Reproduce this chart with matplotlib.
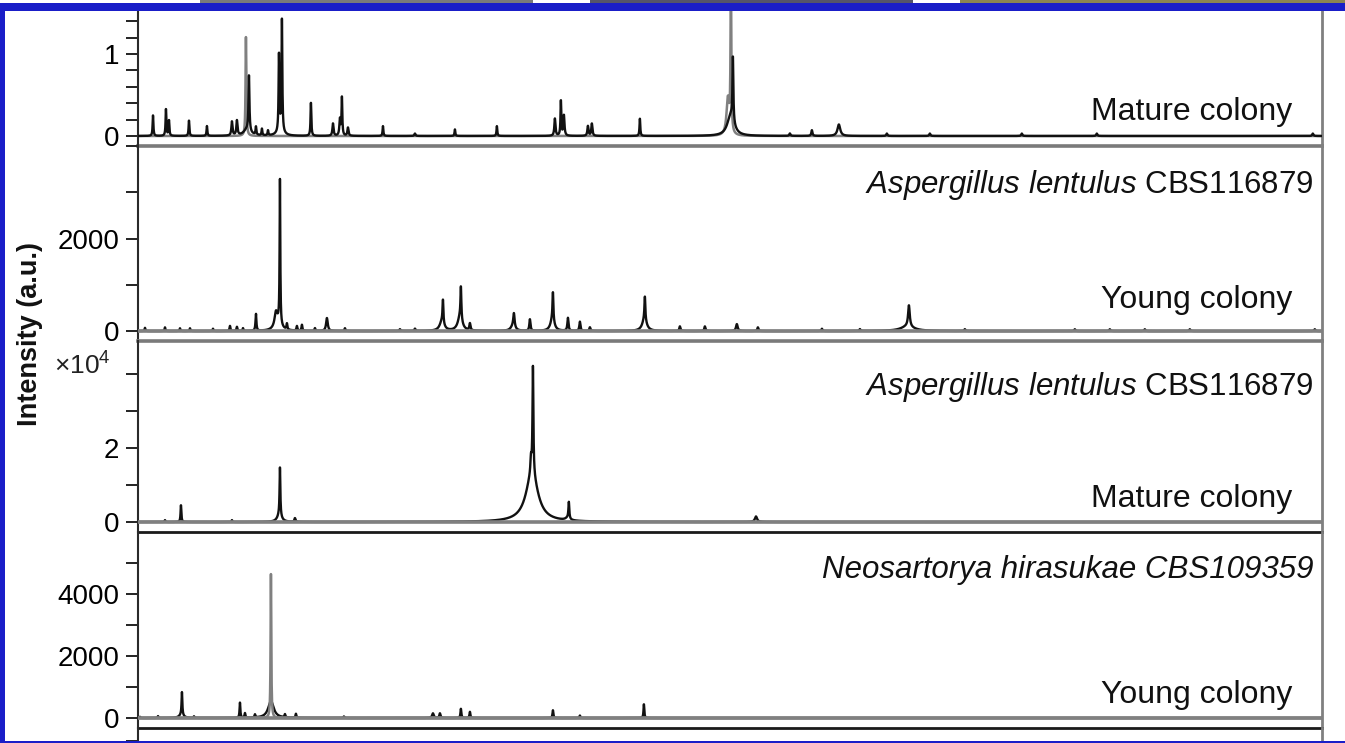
import numpy as np
import matplotlib
matplotlib.use("Agg")
import matplotlib.pyplot as plt
from matplotlib.patches import Rectangle

plt.rcParams['font.family'] = ['Liberation Sans', 'DejaVu Sans']
plt.rcParams['mathtext.fontset'] = 'custom'
plt.rcParams['mathtext.rm'] = 'Liberation Sans'
plt.rcParams['mathtext.it'] = 'Liberation Sans:italic'

W, H = 1345, 743

# m/z grid shared by the four spectra
mz = np.arange(2000.0, 20000.0, 2.0)

# ---- panel 1: mature colony (x10^4 a.u.) ----
p1_pos = [2228, 2425, 2471, 2775, 3048, 3428, 3504, 3687, 3660, 3793, 3884, 3976,
          4143, 4188, 4165, 4629, 4964, 5070, 5100, 5192, 5724, 6210, 6818, 7456,
          8338, 8429, 8475, 8840, 8900, 9630, 11044, 11010, 11910, 12245, 12655,
          13384, 14038, 15436, 16576, 19860]
p1_int = [0.25, 0.33, 0.19, 0.19, 0.12, 0.17, 0.18, 0.68, 0.08, 0.10, 0.08, 0.06,
          0.94, 1.35, 0.07, 0.41, 0.15, 0.20, 0.46, 0.10, 0.12, 0.03, 0.08, 0.12,
          0.21, 0.43, 0.25, 0.12, 0.15, 0.21, 0.78, 0.25, 0.03, 0.07, 0.14,
          0.03, 0.03, 0.03, 0.03, 0.03]
p1_wid = [7, 7, 7, 7, 7, 10, 10, 8, 60, 7, 7, 7,
          7, 7, 50, 7, 10, 10, 7, 10, 7, 10, 7, 7,
          10, 7, 10, 10, 10, 7, 8, 60, 10, 10, 25,
          10, 10, 10, 10, 10]
# second (grey) acquisition overlaid
p1g_pos = [3641, 11014, 10968]
p1g_int = [1.23, 1.9, 0.45]
p1g_wid = [7, 7, 25]

# ---- panel 2: young colony ----
p2_pos = [2106, 2410, 2638, 2790, 3140, 3398, 3504, 3596, 3793, 4097, 4158, 4130,
          4264, 4416, 4492, 4690, 4872, 5146, 5982, 6210, 6636, 6620, 6909, 6895,
          7046, 7715, 7700, 7958, 8308, 8300, 8536, 8718, 8870, 9706, 9700, 10238,
          10618, 11104, 11424, 12397, 12975, 13720, 13700, 14570, 16242, 16774,
          17306, 17990, 19890]
p2_int = [70, 80, 60, 60, 50, 110, 90, 60, 370, 300, 3120, 150,
          130, 100, 130, 60, 280, 60, 40, 50, 500, 200, 700, 300,
          150, 300, 100, 250, 600, 250, 280, 200, 80, 500, 250, 100,
          100, 150, 80, 50, 40, 460, 100, 40, 40, 40,
          40, 40, 40]
p2_wid = [7, 7, 7, 7, 7, 8, 8, 7, 8, 25, 6, 60,
          8, 8, 8, 8, 15, 8, 10, 10, 8, 40, 8, 40,
          10, 12, 40, 10, 8, 35, 10, 10, 10, 8, 40, 10,
          10, 15, 10, 10, 10, 15, 120, 10, 10, 10,
          10, 10, 10]

# ---- panel 3: mature colony (x10^4 a.u.) ----
p3_pos = [2410, 2653, 3428, 4158, 4150, 4386, 7990, 7974, 8004, 8550, 8530, 11395]
p3_int = [0.05, 0.46, 0.05, 1.30, 0.18, 0.10, 1.30, 0.40, 2.90, 0.45, 0.06, 0.15]
p3_wid = [7, 7, 7, 7, 40, 10, 110, 10, 8, 8, 40, 20]

# ---- panel 4: young colony ----
p4_pos = [2030, 2304, 2668, 2660, 2851, 3550, 3626, 3778, 4021, 4234, 4401, 5131,
          6484, 6590, 6909, 7046, 8308, 8718, 9691]
p4_int = [40, 60, 740, 100, 50, 490, 150, 100, 550, 100, 130, 50,
          150, 150, 300, 200, 250, 80, 450]
p4_wid = [7, 7, 7, 40, 7, 7, 8, 8, 50, 8, 8, 8,
          15, 10, 8, 8, 8, 8, 7]
p4g_pos = [4021]
p4g_int = [4770]
p4g_wid = [6]

labels_species = ['', r'$\mathit{Aspergillus\ lentulus}$ CBS116879',
                  r'$\mathit{Aspergillus\ lentulus}$ CBS116879',
                  'Neosartorya hirasukae CBS109359']
labels_stage = ['Mature colony', 'Young colony', 'Mature colony', 'Young colony']


def spectrum(pos, ints, wids):
    y = np.zeros_like(mz)
    for p, h, w in zip(pos, ints, wids):
        y += h / (1.0 + ((mz - p) / w) ** 2)
    return y


def fx(px):
    return px / W


def fy(py):
    return 1 - py / H


fig = plt.figure(figsize=(W / 100, H / 100), dpi=100)

x0, x1 = 138, 1322
# (top px, bottom px, ylim, ticks, labelled ticks, bottom spine colour)
panels = [
    (11, 145.5, (-0.116, 1.524), np.arange(0, 1.41, 0.2), {0: '0', 1: '1'}, '#7a7a7a'),
    (145.5, 340.5, (-204, 4010), [0, 1000, 2000, 3000, 4000], {0: '0', 2000: '2000'}, '#7a7a7a'),
    (340.5, 532, (-0.27, 4.905), [0, 1, 2, 3, 4], {0: '0', 2: '2'}, '#1a1a1a'),
    (532, 727.5, (-306, 6000), [0, 1000, 2000, 3000, 4000, 5000],
     {0: '0', 2000: '2000', 4000: '4000'}, '#1a1a1a'),
]
data = [(p1_pos, p1_int, p1_wid), (p2_pos, p2_int, p2_wid),
        (p3_pos, p3_int, p3_wid), (p4_pos, p4_int, p4_wid)]
grey = [(p1g_pos, p1g_int, p1g_wid), None, None, (p4g_pos, p4g_int, p4g_wid)]

axes = []
for i, (top, bot, ylim, ticks, lab, bcol) in enumerate(panels):
    ax = fig.add_axes([fx(x0), fy(bot), fx(x1 - x0), (bot - top) / H])
    ax.set_xlim(2000, 20000)
    ax.set_ylim(*ylim)
    if i == 0:
        ax.plot(mz, spectrum(*grey[0]), color='#808080', lw=1.8, zorder=2)
        ax.plot(mz, spectrum(*data[0]), color='#111111', lw=1.7, zorder=3)
    else:
        ax.plot(mz, spectrum(*data[i]), color='#111111', lw=1.7, zorder=2)
        ax.axhline(0, color='#808080', lw=2.6, zorder=3)
        if grey[i] is not None:
            ax.plot(mz, spectrum(*grey[i]), color='#808080', lw=1.8, zorder=4)
    ax.set_yticks(ticks, labels=[lab.get(round(t, 1) if i == 0 else t, '') for t in ticks])
    ax.tick_params(axis='y', direction='out', length=8.6, width=1.4, color='#222222',
                   labelsize=20, pad=5)
    ax.tick_params(axis='x', bottom=False, labelbottom=False)
    ax.spines['top'].set_visible(False)
    ax.spines['left'].set_color('#2a2a2a')
    ax.spines['left'].set_linewidth(1.5)
    ax.spines['right'].set_color('#808080')
    ax.spines['right'].set_linewidth(2.0)
    ax.spines['bottom'].set_color(bcol)
    ax.spines['bottom'].set_linewidth(2.6 if i < 2 else 2.0)
    ax.patch.set_alpha(0)
    axes.append(ax)

# stub of the next panel below the crop
ax5 = fig.add_axes([fx(x0), fy(790), fx(x1 - x0), (790 - 727.5) / H])
ax5.set_ylim(0, 1)
ax5.set_yticks([0.79], labels=[''])
ax5.tick_params(axis='y', direction='out', length=8.6, width=1.4, color='#222222')
ax5.tick_params(axis='x', bottom=False, labelbottom=False)
for s in ['top', 'bottom']:
    ax5.spines[s].set_visible(False)
ax5.spines['left'].set_color('#2a2a2a')
ax5.spines['left'].set_linewidth(1.5)
ax5.spines['right'].set_color('#808080')
ax5.spines['right'].set_linewidth(2.0)
ax5.patch.set_alpha(0)

# panel labels
stage_base = [120, 308, 507, 703]
species_base = [None, 193, 395, 578]
for i in range(4):
    fig.text(fx(1292), fy(stage_base[i]), labels_stage[i], ha='right', va='baseline',
             fontsize=23, color='#111111')
    if species_base[i] is not None:
        fig.text(fx(1313), fy(species_base[i]), labels_species[i], ha='right',
                 va='baseline', fontsize=22.5, color='#111111',
                 style='italic' if i == 3 else 'normal')

fig.text(fx(111), fy(375), r'×10$^{4}$', ha='right', va='baseline', fontsize=19,
         color='#222222')
fig.text(fx(30), fy(334), 'Intensity (a.u.)', rotation=90, ha='center', va='center',
         fontsize=19.5, fontweight='bold', color='#111111')

# slide frame around the cropped figure
blue = '#1a1ec8'
fig.add_artist(Rectangle((fx(200), fy(3)), fx(333), 3 / H, transform=fig.transFigure,
                         color='#7a7a7a', lw=0, zorder=5))
fig.add_artist(Rectangle((fx(590), fy(3)), fx(323), 3 / H, transform=fig.transFigure,
                         color='#55556a', lw=0, zorder=5))
fig.add_artist(Rectangle((fx(960), fy(3)), fx(385), 3 / H, transform=fig.transFigure,
                         color='#8a8450', lw=0, zorder=5))
fig.add_artist(Rectangle((0, fy(10.5)), 1, 7.5 / H, transform=fig.transFigure,
                         color=blue, lw=0, zorder=5))
fig.add_artist(Rectangle((0, 0), fx(5), fy(3), transform=fig.transFigure,
                         color=blue, lw=0, zorder=5))
fig.add_artist(Rectangle((0, 0), 1, 2.5 / H, transform=fig.transFigure,
                         color=blue, lw=0, zorder=5))

fig.savefig('out.png', dpi=100)
